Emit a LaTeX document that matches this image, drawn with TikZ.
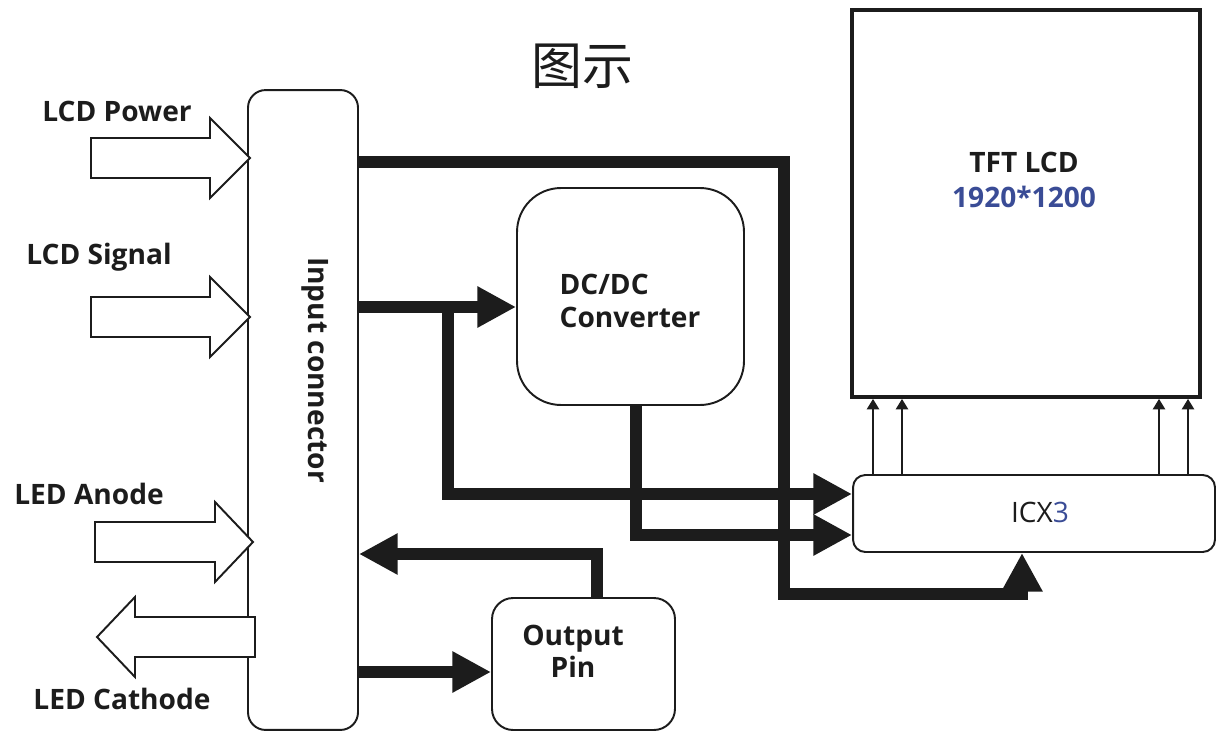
\documentclass[tikz,border=0pt]{standalone}
\usepackage{fontspec}
\setmainfont{Open Sans}
\newfontfamily\cjkfont{Noto Sans CJK SC}
\usetikzlibrary{arrows.meta,calc}
\definecolor{ink}{RGB}{28,28,28}
\definecolor{numblue}{RGB}{58,76,150}
\begin{document}
\begin{tikzpicture}[x=0.02cm,y=-0.02cm,
  box/.style={draw=ink, line width=1.1pt, fill=white, inner sep=0pt},
  lbl/.style={font=\fontsize{16}{19}\selectfont\bfseries, text=ink, inner sep=0pt},
  hollow/.style={draw=ink, line width=1.1pt, fill=white, line join=miter},
  bus/.style={draw=ink, line width=6.8pt, line join=miter, -{Triangle[length=22pt,width=22pt]}},
  thinarrow/.style={draw=ink, line width=1.1pt, -{Triangle[length=6pt,width=7pt]}}]
\useasboundingbox (0,0) rectangle (1219,733);
\fill[white] (0,0) rectangle (1219,733);

% title
\node[font=\cjkfont\fontsize{29}{32}\selectfont, text=ink] (title) at (582,66) {图示};

% boxes
\node[box, rounded corners=10pt, minimum width=2.2cm, minimum height=12.8cm] (ic) at (303,410) {};
\node[lbl, rotate=-90] (iclabel) at (315,370) {Input connector};

\node[box, rounded corners=25pt, minimum width=4.54cm, minimum height=4.34cm] (dcdc) at (630.5,296.5) {};
\node[lbl, align=left] (dcdclabel) at (630,301) {DC/DC\\Converter};

\node[box, line width=2.2pt, minimum width=6.96cm, minimum height=7.74cm] (lcd) at (1026,203.5) {};
\node[lbl, align=center, font=\fontsize{16}{20}\selectfont\bfseries] (lcdlabel) at (1024,180) {TFT LCD\\\textcolor{numblue}{1920*1200}};

\node[box, rounded corners=7pt, minimum width=7.24cm, minimum height=1.54cm] (icx) at (1034,513.5) {};
\node[font=\fontsize{16}{19}\selectfont, text=ink, inner sep=0pt] (icxlabel) at (1040,512) {ICX\textcolor{numblue}{3}};

\node[box, rounded corners=12pt, minimum width=3.66cm, minimum height=2.64cm] (outpin) at (583.5,664) {};
\node[lbl, align=center, font=\fontsize{16}{18}\selectfont\bfseries] (outlabel) at (573,651) {Output\\Pin};

% hollow arrows on the left
\draw[hollow] (91,138) -- (210,138) -- (210,118) -- (250,158) -- (210,198) -- (210,178) -- (91,178) -- cycle;
\draw[hollow] (91,297) -- (210,297) -- (210,277) -- (250,317) -- (210,357) -- (210,337) -- (91,337) -- cycle;
\draw[hollow] (95,522) -- (215,522) -- (215,502) -- (253,542) -- (215,582) -- (215,562) -- (95,562) -- cycle;
\draw[hollow] (255,617) -- (135,617) -- (135,597) -- (97,637) -- (135,677) -- (135,657) -- (255,657) -- cycle;

\node[lbl] (lcdpower) at (117,111) {LCD Power};
\node[lbl] (lcdsignal) at (99,257) {LCD Signal};
\node[lbl] (ledanode) at (89,494) {LED Anode};
\node[lbl] (ledcathode) at (122,699) {LED Cathode};

% thick buses
\coordinate (c1) at (784,162);
\coordinate (c2) at (784,594);
\coordinate (c3) at (1022,594);
\draw[bus] (ic.east |- 0,162) -- (c1) -- (c2) -- (c3) -- (icx.south -| c3);

\coordinate (b1) at (448,307);
\coordinate (b2) at (448,494);
\draw[bus] (ic.east |- b1) -- (dcdc.west |- b1);
\draw[bus] (b1) -- (b2) -- (icx.west |- b2);

\coordinate (d1) at (636,535);
\draw[bus] (dcdc.south -| d1) -- (d1) -- (icx.west |- d1);

\coordinate (o1) at (597,554);
\draw[bus] (outpin.north -| o1) -- (o1) -- (ic.east |- o1);

\coordinate (o2) at (0,672);
\draw[bus] (ic.east |- o2) -- (outpin.west |- o2);

% thin arrows ICX3 -> LCD
\foreach \xx/\nm in {873/t1, 902/t2, 1159/t3, 1188/t4}{
  \coordinate (\nm) at (\xx,0);
  \draw[thinarrow] (icx.north -| \nm) -- (lcd.south -| \nm);
}
\end{tikzpicture}
\end{document}
